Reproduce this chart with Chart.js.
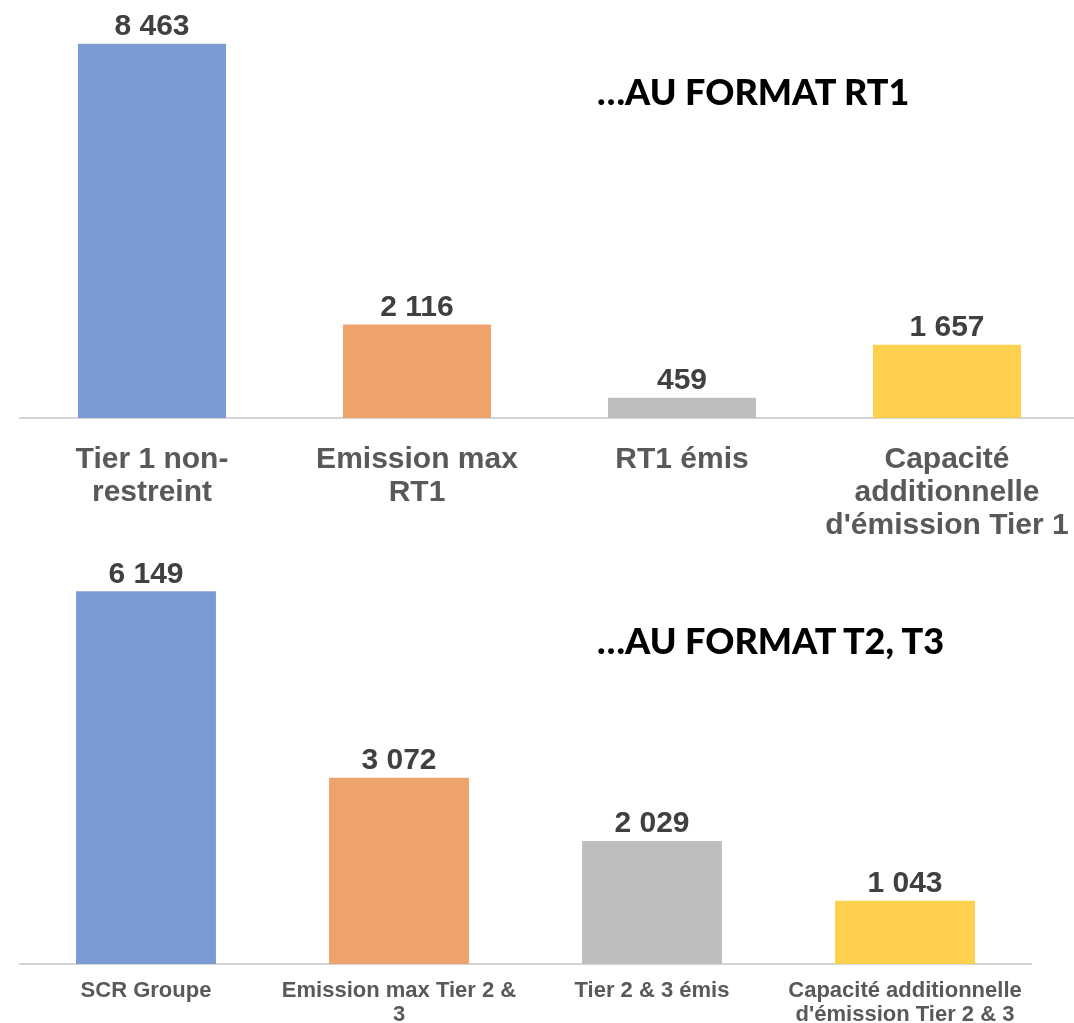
<!DOCTYPE html>
<html><head><meta charset="utf-8">
<script src="https://cdn.jsdelivr.net/npm/chart.js@4.4.0/dist/chart.umd.min.js"></script>
<style>
html,body{margin:0;padding:0;background:#fff;overflow:hidden;width:1074px;height:1023px;}
#wrap{position:relative;width:1100px;height:1023px;}
canvas{position:absolute;left:0;}
#c1{top:0;width:1090px;height:545px;}
#c2{top:545px;width:1074px;height:478px;}
.ttl{position:absolute;font-family:Lato,'Open Sans',sans-serif;font-weight:900;color:#000;font-size:36px;white-space:nowrap;}
#t1{left:597px;top:69px;}
#t2{left:597px;top:618px;}
</style></head>
<body><div id="wrap">
<canvas id="c1" width="1090" height="545"></canvas>
<canvas id="c2" width="1074" height="478"></canvas>
<div class="ttl" id="t1">…AU FORMAT RT1</div>
<div class="ttl" id="t2">…AU FORMAT T2, T3</div>
</div>
<script>
const categoriesTop = [["Tier 1 non-","restreint"],["Emission max","RT1"],["RT1 émis"],["Capacité","additionnelle","d'émission Tier 1"]];
const valuesTop = [8463, 2116, 459, 1657];
const categoriesBottom = [["SCR Groupe"],["Emission max Tier 2 &","3"],["Tier 2 & 3 émis"],["Capacité additionnelle","d'émission Tier 2 & 3"]];
const valuesBottom = [6149, 3072, 2029, 1043];
const barColors = ["#7B9BD4","#EFA36C","#BEBEBE","#FDD14E"];

function fmt(v){ return String(v).replace(/\B(?=(\d{3})+(?!\d))/g, " "); }

const valueLabels = {
  id:'valueLabels',
  afterDatasetsDraw(chart){
    const ctx = chart.ctx;
    const meta = chart.getDatasetMeta(0);
    ctx.save();
    ctx.font = "bold 30px 'Liberation Sans', Arial, sans-serif";
    ctx.fillStyle = "#404040";
    ctx.textAlign = "center";
    ctx.textBaseline = "middle";
    meta.data.forEach((bar,i)=>{
      ctx.fillText(fmt(chart.data.datasets[0].data[i]), bar.x, bar.y - 17);
    });
    ctx.restore();
  }
};

function makeChart(id, labels, values, opts){
  return new Chart(document.getElementById(id), {
    type:'bar',
    data:{labels:labels, datasets:[{data:values, backgroundColor:barColors, borderWidth:0, categoryPercentage:1, barPercentage:opts.barPct}]},
    options:{
      responsive:false, animation:false, devicePixelRatio:1,
      layout:{padding:{left:19.5, right:opts.padRight, top:opts.padTop, bottom:0}},
      plugins:{legend:{display:false}, tooltip:{enabled:false}, title:{display:false}},
      scales:{
        x:{
          grid:{display:false, drawTicks:false},
          border:{display:true, color:"#D4D4D4", width:2},
          ticks:{color:"#595959", padding:opts.tickPad, maxRotation:0, autoSkip:false,
            font:{family:"'Liberation Sans', Arial, sans-serif", weight:'bold', size:opts.fontSize, lineHeight:opts.lineHeight}},
          afterFit(scale){ scale.height = opts.xHeight; scale.paddingLeft = 0; scale.paddingRight = 0; }
        },
        y:{display:false, min:0, max:opts.yMax}
      }
    },
    plugins:[valueLabels]
  });
}

makeChart('c1', categoriesTop, valuesTop, {barPct:0.5585, padRight:10.5, padTop:20, tickPad:25, fontSize:30, lineHeight:1.1, xHeight:127, yMax:9000});
makeChart('c2', categoriesBottom, valuesBottom, {barPct:0.553, padRight:42.5, padTop:25, tickPad:15, fontSize:22, lineHeight:1.09, xHeight:59, yMax:6500});
</script>
</body></html>
